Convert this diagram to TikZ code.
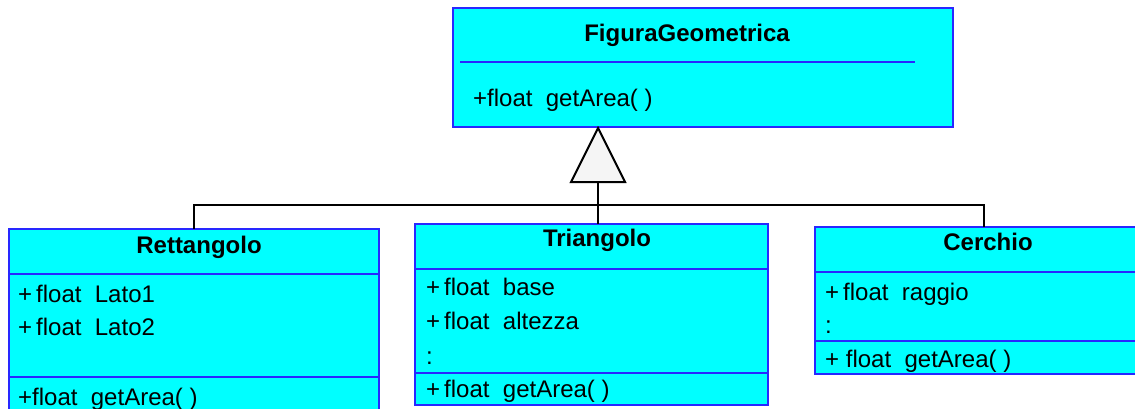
\documentclass[tikz,border=0pt]{standalone}
\usepackage{fontspec}
\setmainfont{Liberation Sans}
\usepackage{tikz}
\usetikzlibrary{arrows.meta}

\definecolor{umlcyan}{RGB}{0,255,255}
\definecolor{umlblue}{RGB}{40,40,255}

\tikzset{
  classbox/.style={draw=umlblue, fill=umlcyan, line width=1.5pt, inner sep=0pt, outer sep=0pt, anchor=north west},
  classname/.style={font=\fontsize{24}{28}\selectfont\bfseries, anchor=base, inner sep=0pt},
  member/.style={font=\fontsize{24}{28}\selectfont, anchor=base west, inner sep=0pt},
  sepline/.style={draw=umlblue, line width=1.5pt},
  link/.style={draw=black, line width=2pt},
  inherit/.style={draw=black, fill=gray!8, line width=2pt, line join=miter}
}

\begin{document}
\begin{tikzpicture}[x=1pt, y=-1pt]
    \clip (0,0) rectangle (1135,409);

    % superclass
    \node[classbox, minimum width=500pt, minimum height=119pt] (figura) at (453,8) {};
    \node[classname] (figuraname) at (687,42) {FiguraGeometrica};
    \draw[sepline] (460,62) -- (915,62);
    \node[member] (figuraop) at (473,107) {+float\ \ getArea( )};

    % subclasses
    \node[classbox, minimum width=370pt, minimum height=186pt] (rett) at (9,229) {};
    \node[classname] (rettname) at (199,253) {Rettangolo};
    \draw[sepline] (9,274) -- (379,274);
    \node[member] (rettlato1) at (18,302) {+\,float\ \ Lato1};
    \node[member] (rettlato2) at (18,335) {+\,float\ \ Lato2};
    \draw[sepline] (9,377) -- (379,377);
    \node[member] (rettop) at (18,405) {+float\ \ getArea( )};

    \node[classbox, minimum width=353pt, minimum height=181pt] (tria) at (415,224) {};
    \node[classname] (trianame) at (597,246) {Triangolo};
    \draw[sepline] (415,269) -- (768,269);
    \node[member] (triabase) at (426,295) {+\,float\ \ base};
    \node[member] (triaalt) at (426,329) {+\,float\ \ altezza};
    \node[member] (triadots) at (426,364) {:};
    \draw[sepline] (415,373) -- (768,373);
    \node[member] (triaop) at (426,397) {+\,float\ \ getArea( )};

    \node[classbox, minimum width=338pt, minimum height=147pt] (cerc) at (815,227) {};
    \node[classname] (cercname) at (988,250) {Cerchio};
    \draw[sepline] (815,272) -- (1153,272);
    \node[member] (cercraggio) at (825,300) {+\,float\ \ raggio};
    \node[member] (cercdots) at (825,333) {:};
    \draw[sepline] (815,341) -- (1153,341);
    \node[member] (cercop) at (825,367) {+ float\ \ getArea( )};

    % generalisation
    \coordinate (apex) at (598,128);
    \coordinate (tbase) at (598,182);
    \coordinate (bus) at (598,205);
    \draw[inherit] (apex) -- ++(-27,54) -- ++(54,0) -- cycle;
    \draw[link] (tbase) -- (tbase |- tria.north);
    \draw[link] (rett.north) |- (bus) -| (cerc.north);
\end{tikzpicture}
\end{document}
